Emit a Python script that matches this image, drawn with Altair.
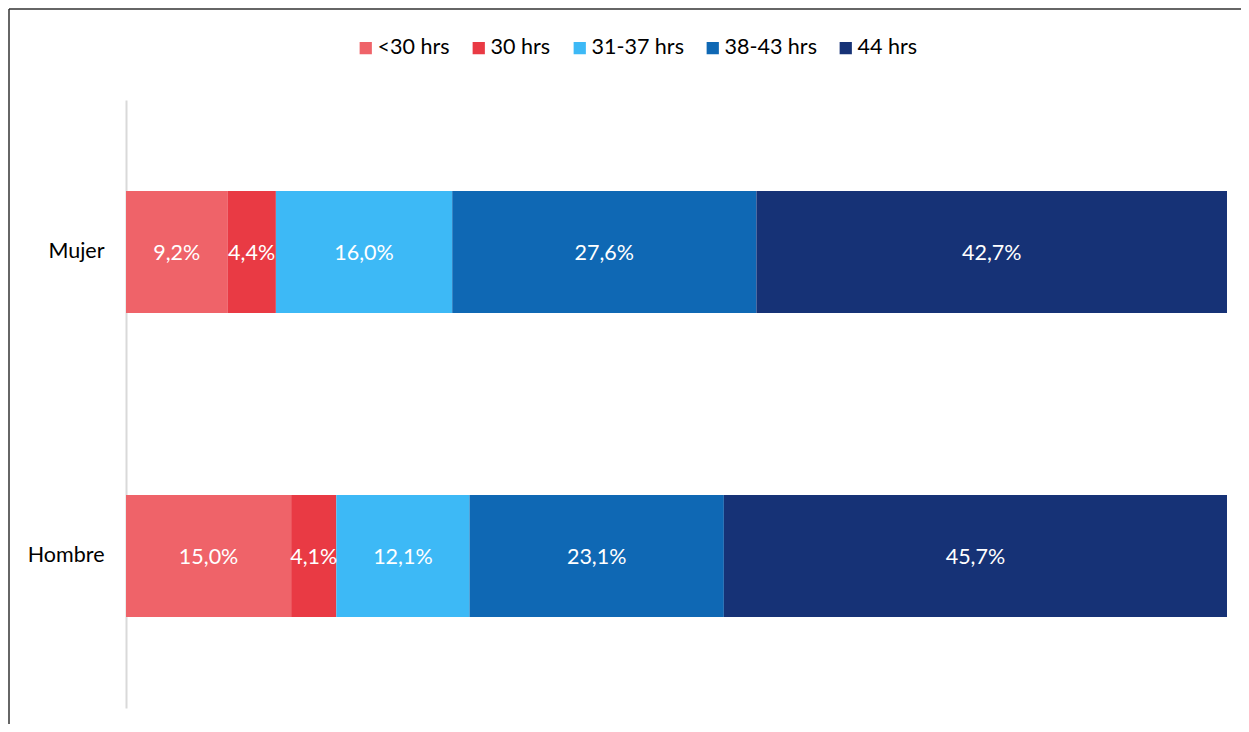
import altair as alt
import pandas as pd

groups = ["Mujer", "Hombre"]
categories = ["<30 hrs", "30 hrs", "31-37 hrs", "38-43 hrs", "44 hrs"]
colors = ["#EF6369", "#E93A44", "#3DB9F6", "#0F68B4", "#163276"]
mujer = [9.2, 4.4, 16.0, 27.6, 42.7]
hombre = [15.0, 4.1, 12.1, 23.1, 45.7]

rows = []
for g, vals in zip(groups, [mujer, hombre]):
    for i, (c, v) in enumerate(zip(categories, vals)):
        rows.append({"grupo": g, "cat": c, "idx": i, "valor": v,
                     "label": f"{v:.1f}".replace(".", ",") + "%"})
df = pd.DataFrame(rows)

FONT = "Lato"

base = alt.Chart(df)

bars = base.mark_bar(size=122).encode(
    y=alt.Y("grupo:N", sort=groups, title=None,
            scale=alt.Scale(paddingInner=0, paddingOuter=0),
            axis=alt.Axis(labelFontSize=21.5, labelColor="#000000", labelFont=FONT,
                          ticks=False, labelPadding=22, domainColor="#D9D9D9",
                          domainWidth=2, labelBaseline="middle")),
    x=alt.X("valor:Q", stack="normalize", title=None, axis=None,
            scale=alt.Scale(domain=[0, 1], nice=False)),
    color=alt.Color("cat:N", sort=categories,
                    scale=alt.Scale(domain=categories, range=colors),
                    legend=alt.Legend(title=None, orient="none", direction="horizontal",
                                      legendX=229, legendY=-63, symbolType="square",
                                      symbolSize=150, labelFontSize=21.5, labelFont=FONT,
                                      labelColor="#000000", columnPadding=18,
                                      labelOffset=1, symbolStrokeWidth=0)),
    order=alt.Order("idx:Q"),
)

labels = base.transform_joinaggregate(
    total="sum(valor)", groupby=["grupo"]
).transform_window(
    cum="sum(valor)", sort=[alt.SortField("idx")], groupby=["grupo"],
    frame=[None, 0]
).transform_calculate(
    mid="(datum.cum - datum.valor/2) / datum.total"
).mark_text(color="white", fontSize=21.5, font=FONT, dy=2).encode(
    y=alt.Y("grupo:N", sort=groups),
    x=alt.X("mid:Q"),
    text="label:N",
)

frame_data = alt.Data(values=[{"k": 1}])
left_line = alt.Chart(frame_data).mark_rule(color="#333333", strokeWidth=1.5).encode(
    x=alt.value(-117), y=alt.value(-91), y2=alt.value(640))
top_line = alt.Chart(frame_data).mark_rule(color="#333333", strokeWidth=1.5).encode(
    x=alt.value(-117), x2=alt.value(1130), y=alt.value(-91))

chart = alt.layer(bars, labels, left_line, top_line).properties(
    width=1101, height=608,
    autosize=alt.AutoSizeParams(type="none"),
    padding={"left": 118, "top": 92, "right": 14, "bottom": 16},
).configure_view(stroke=None)

chart.save("out.html", embed_options={"renderer": "svg", "actions": False})
